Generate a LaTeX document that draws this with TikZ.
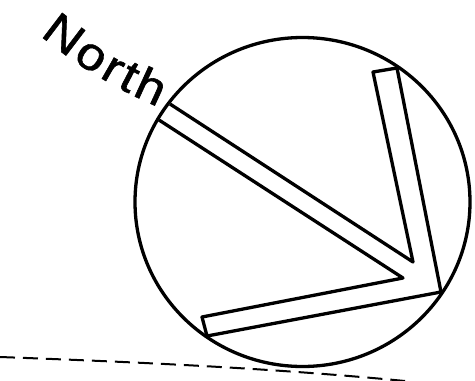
\documentclass[tikz,border=0pt]{standalone}
\usepackage{fontspec}
\newfontfamily\labelfont[FakeBold=1.2]{Liberation Sans}
\begin{document}
\begin{tikzpicture}[x=1pt,y=-1pt,
  outline/.style={line width=3.3pt,line join=round},
  horizon/.style={line width=2pt,dash pattern=on 15pt off 8pt},
  letter/.style={font=\labelfont\fontsize{46}{46}\selectfont,inner sep=0pt,anchor=base}]
\useasboundingbox (0,0) rectangle (475,381);
% horizon
\draw[horizon] (0,357) .. controls (135,362) and (270,368) .. (405,381);
% circle
\draw[outline] (302.5,202) ellipse [x radius=167.5, y radius=164.5];
% chevron
\draw[outline] (170,104) -- (413,262) -- (373,72) -- (397,68) -- (441,292)
  -- (207,336) -- (202,317) -- (403,278) -- (159,120);
% label "North", set letter by letter along a gentle arc
\node[letter,rotate=-37.3,xscale=1.12] (lN) at (54.5,46.8) {N};
\node[letter,rotate=-33.0,xscale=1.12] (lo) at (84.0,67.6) {o};
\node[letter,rotate=-29.9,xscale=1.12] (lr) at (106.3,81.2) {r};
\node[letter,rotate=-27.6,xscale=1.12] (lt) at (122.8,90.2) {t};
\node[letter,rotate=-24.7,xscale=1.12] (lh) at (144.7,101.0) {h};
\end{tikzpicture}
\end{document}
